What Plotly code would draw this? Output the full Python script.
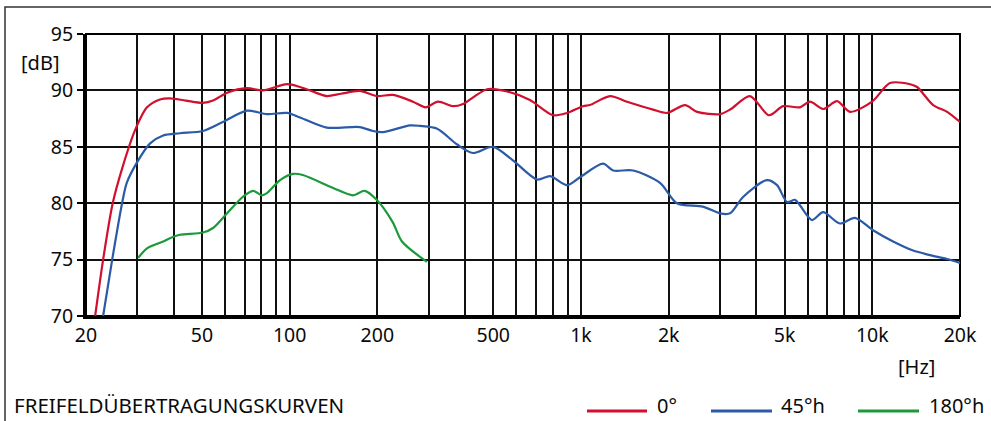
import math
import plotly.graph_objects as go

# ---- data ----
red_f = [21.5, 22.9, 24.7, 26.7, 29.5, 32.4, 35.9, 38.8, 44, 50.4, 54.6, 61, 71.4, 81, 98,
         108.6, 120, 134, 150, 174, 199, 226, 265, 293, 323, 364, 394, 476, 558, 668, 802,
         896, 1016, 1074, 1258, 1439, 1768, 1975, 2276, 2504, 3000, 3250, 3800, 4420, 4940,
         5650, 6110, 6780, 7570, 8390, 9980, 11500, 13480, 14250, 16180, 18070, 20000]
red_db = [70.0, 75.0, 80.0, 83.2, 86.5, 88.5, 89.2, 89.3, 89.1, 88.9, 89.1, 89.8, 90.2, 90.0, 90.55,
          90.3, 89.9, 89.5, 89.7, 89.95, 89.5, 89.6, 89.0, 88.5, 89.0, 88.6, 88.8, 90.1, 89.9, 89.15, 87.8,
          88.0, 88.6, 88.7, 89.5, 89.0, 88.3, 88.0, 88.7, 88.1, 87.9, 88.3, 89.5, 87.8, 88.6,
          88.5, 89.0, 88.35, 89.05, 88.1, 89.0, 90.65, 90.55, 90.3, 88.7, 88.1, 87.2]

blue_f = [22.9, 24.6, 26.6, 27.6, 29.9, 33.2, 36.8, 42, 50.4, 59, 71.4, 83.6, 98, 108.6, 134,
          174, 193, 209, 259, 280, 321, 376, 426, 499, 584, 707, 784, 896, 992, 1191, 1289,
          1510, 1868, 2134, 2620, 3000, 3250, 3600, 4350, 4710, 5100, 5430, 5650, 6210, 6780,
          7740, 8720, 10060, 11790, 13800, 15780, 18070, 20000]
blue_db = [70.0, 75.0, 80.0, 81.8, 83.6, 85.3, 86.0, 86.2, 86.4, 87.2, 88.2, 87.9, 88.0, 87.6, 86.7,
           86.75, 86.4, 86.3, 86.9, 86.85, 86.6, 85.2, 84.45, 85.0, 83.8, 82.1, 82.4, 81.6, 82.3, 83.5, 82.9,
           82.9, 81.8, 80.0, 79.7, 79.1, 79.1, 80.55, 82.05, 81.6, 80.1, 80.3, 79.8, 78.5, 79.2,
           78.2, 78.7, 77.6, 76.6, 75.8, 75.4, 75.05, 74.7]

green_f = [30.2, 32.4, 36.8, 38.8, 42, 50.4, 54.6, 61, 69, 74.8, 80.3, 83.6, 92.7, 102.7, 111,
           141, 165, 181, 199, 226, 243, 296]
green_db = [75.15, 76.0, 76.6, 76.9, 77.2, 77.4, 77.8, 79.1, 80.55, 81.1, 80.7, 80.9, 82.05, 82.6, 82.5,
            81.35, 80.7, 81.1, 80.3, 78.3, 76.6, 74.8]

series_names = ["0°", "45°h", "180°h"]
series_colors = ["#d0102e", "#2b5ba6", "#1c9a3a"]

x_grid = [20, 30, 40, 50, 60, 70, 80, 90, 100, 200, 300, 400, 500, 600, 700, 800, 900,
          1000, 2000, 3000, 4000, 5000, 6000, 7000, 8000, 9000, 10000, 20000]
x_label_map = {20: "20", 50: "50", 100: "100", 200: "200", 500: "500", 1000: "1k",
               2000: "2k", 5000: "5k", 10000: "10k", 20000: "20k"}
x_text = [x_label_map.get(v, "") for v in x_grid]
y_ticks = [70, 75, 80, 85, 90, 95]

title_text = "FREIFELDÜBERTRAGUNGSKURVEN"

FONT = "Noto Sans"
TXT = "#0a0a0a"
fig = go.Figure()
for f, d, n, c in zip([red_f, blue_f, green_f], [red_db, blue_db, green_db], series_names, series_colors):
    fig.add_trace(go.Scatter(x=f, y=d, name=n, mode="lines",
                             line=dict(color=c, width=2.2, shape="spline", smoothing=0.8),
                             showlegend=False, cliponaxis=True, hoverinfo="skip"))

W, H = 991, 421
L, R, T, B = 86, 31, 34, 105
pw, ph = W - L - R, H - T - B

def px(x):
    return (x - L) / pw

def py(y):
    return (H - B - y) / ph

shapes = [
    dict(type="rect", xref="paper", yref="paper", x0=px(5), x1=px(1005), y0=py(7), y1=py(440),
         line=dict(color="#333333", width=1.5), layer="below"),
    dict(type="rect", xref="paper", yref="paper", x0=0, x1=1, y0=0, y1=1,
         line=dict(color="#000000", width=2), layer="below"),
]
annotations = [
    dict(text="[dB]", x=px(40), y=py(62), xref="paper", yref="paper", showarrow=False,
         xanchor="center", yanchor="middle", font=dict(size=20, color=TXT, family=FONT)),
    dict(text="[Hz]", x=px(916), y=py(366), xref="paper", yref="paper", showarrow=False,
         xanchor="center", yanchor="middle", font=dict(size=20, color=TXT, family=FONT)),
    dict(text=title_text, x=px(12), y=py(405), xref="paper", yref="paper", showarrow=False,
         xanchor="left", yanchor="middle", font=dict(size=20.5, color=TXT, family=FONT)),
]
leg_pos = [(587, 647, 655), (711, 772, 779), (858, 919, 927)]
for (x0, x1, xt), n, c in zip(leg_pos, series_names, series_colors):
    shapes.append(dict(type="line", xref="paper", yref="paper", x0=px(x0), x1=px(x1),
                       y0=py(411), y1=py(411), line=dict(color=c, width=3)))
    annotations.append(dict(text=n, x=px(xt), y=py(405), xref="paper", yref="paper", showarrow=False,
                            xanchor="left", yanchor="middle", font=dict(size=20, color=TXT, family=FONT)))

fig.update_layout(
    width=W, height=H,
    margin=dict(l=L, r=R, t=T, b=B),
    paper_bgcolor="white", plot_bgcolor="white",
    font=dict(family=FONT, size=19.5, color=TXT),
    shapes=shapes, annotations=annotations,
    hovermode=False,
    xaxis=dict(type="log", range=[math.log10(20), math.log10(20000)],
               tickmode="array", tickvals=x_grid, ticktext=x_text,
               showgrid=True, gridcolor="#111", gridwidth=2,
               showline=True, linecolor="#000", linewidth=3, ticks="",
               zeroline=False, tickfont=dict(size=19.5)),
    yaxis=dict(range=[70, 95], tickmode="array", tickvals=y_ticks,
               showgrid=True, gridcolor="#111", gridwidth=2,
               showline=True, linecolor="#000", linewidth=3,
               ticks="outside", ticklen=6, tickwidth=2, tickcolor="#000",
               zeroline=False, tickfont=dict(size=19.5)),
)

fig.write_html("out.html", config={"displayModeBar": False, "staticPlot": True},
               post_script="document.body.style.margin='0';document.body.style.overflow='hidden';")
